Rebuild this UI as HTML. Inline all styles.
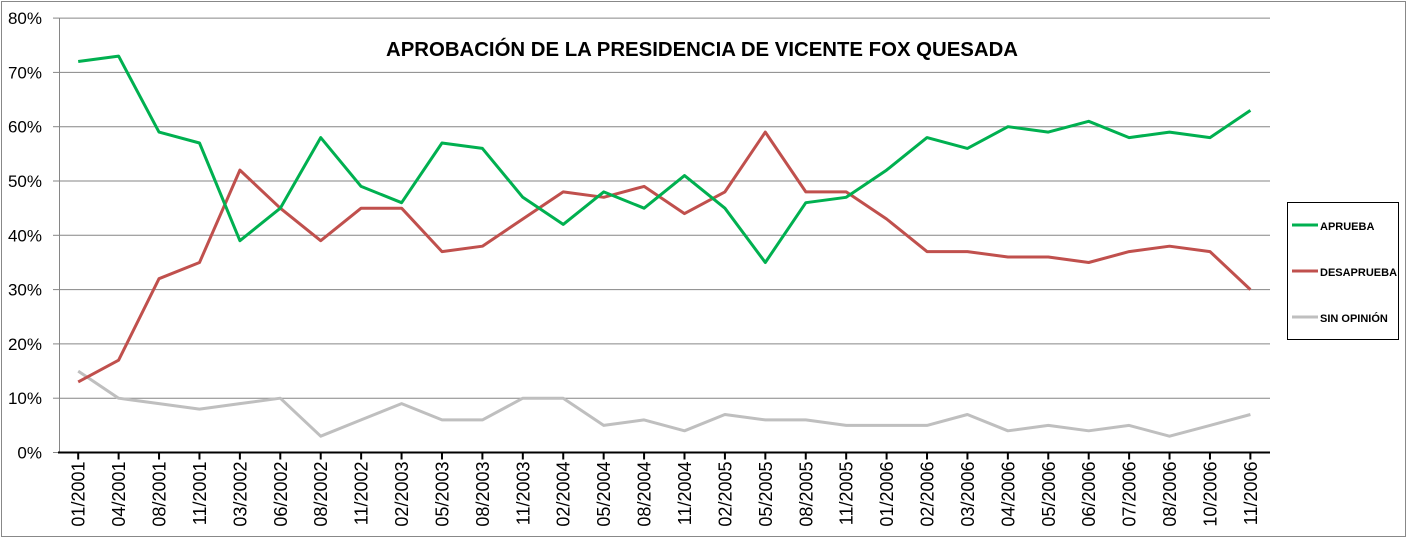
<!DOCTYPE html>
<html><head><meta charset="utf-8"><style>
html,body{margin:0;padding:0;background:#fff;}
svg{display:block;font-family:"Liberation Sans",Arial,sans-serif;}
</style></head><body>
<svg id="c" width="1407" height="552" xmlns="http://www.w3.org/2000/svg">
<rect x="1.5" y="1.5" width="1404" height="535" fill="#fff" stroke="#888" stroke-width="1"/>
<text x="386" y="56" font-size="20" font-weight="bold" textLength="632" lengthAdjust="spacingAndGlyphs">APROBACIÓN DE LA PRESIDENCIA DE VICENTE FOX QUESADA</text>
<g id="grid"></g>
<g id="series"></g>
<rect x="1287.5" y="202.5" width="111" height="137" fill="#fff" stroke="#000" stroke-width="1"/>
<line x1="1292" y1="225" x2="1318" y2="225" stroke="#00b050" stroke-width="3"/>
<text x="1320" y="230" font-size="11" font-weight="bold">APRUEBA</text>
<line x1="1292" y1="271" x2="1318" y2="271" stroke="#c0504d" stroke-width="3"/>
<text x="1320" y="276" font-size="11" font-weight="bold">DESAPRUEBA</text>
<line x1="1292" y1="317" x2="1318" y2="317" stroke="#bfbfbf" stroke-width="3"/>
<text x="1320" y="322" font-size="11" font-weight="bold">SIN OPINIÓN</text>
</svg>
<script>
var NS="http://www.w3.org/2000/svg";
function el(p,t,a,txt){var e=document.createElementNS(NS,t);for(var k in a)e.setAttribute(k,a[k]);if(txt!=null)e.textContent=txt;p.appendChild(e);return e;}
var g=document.getElementById('grid'),s=document.getElementById('series');
var y0=452.5,step=54.3,x0=78.2,dx=40.42;
function Y(v){return y0-v/10*step;}
for(var i=0;i<=8;i++){var y=Y(i*10);
 if(i>0)el(g,'line',{x1:59,y1:y,x2:1270,y2:y,stroke:'#868686','stroke-width':1});
 el(g,'line',{x1:53,y1:y,x2:59,y2:y,stroke:'#868686','stroke-width':1});
 el(g,'text',{x:42,y:y+6,'font-size':17,'text-anchor':'end'},(i*10)+'%');}
el(g,'line',{x1:59.5,y1:Y(80),x2:59.5,y2:y0,stroke:'#868686','stroke-width':1});
var labs=["01/2001","04/2001","08/2001","11/2001","03/2002","06/2002","08/2002","11/2002","02/2003","05/2003","08/2003","11/2003","02/2004","05/2004","08/2004","11/2004","02/2005","05/2005","08/2005","11/2005","01/2006","02/2006","03/2006","04/2006","05/2006","06/2006","07/2006","08/2006","10/2006","11/2006"];
for(var i=0;i<30;i++){var x=x0+i*dx;
 el(g,'line',{x1:x,y1:y0,x2:x,y2:y0+7,stroke:'#000','stroke-width':2});
 el(g,'text',{x:0,y:0,'font-size':18,'text-anchor':'end',transform:'translate('+(x+6.5)+','+(y0+9)+') rotate(-90)'},labs[i]);}
el(g,'line',{x1:58,y1:y0,x2:1270,y2:y0,stroke:'#000','stroke-width':2});
var data=[["#00b050",[72,73,59,57,39,45,58,49,46,57,56,47,42,48,45,51,45,35,46,47,52,58,56,60,59,61,58,59,58,63]],
["#c0504d",[13,17,32,35,52,45,39,45,45,37,38,43,48,47,49,44,48,59,48,48,43,37,37,36,36,35,37,38,37,30]],
["#bfbfbf",[15,10,9,8,9,10,3,6,9,6,6,10,10,5,6,4,7,6,6,5,5,5,7,4,5,4,5,3,5,7]]];
for(var j=2;j>=0;j--){var pts=data[j][1].map(function(v,i){return (x0+i*dx).toFixed(1)+','+Y(v).toFixed(1);}).join(' ');
 el(s,'polyline',{points:pts,fill:'none',stroke:data[j][0],'stroke-width':3,'stroke-linejoin':'round'});}
</script>
</body></html>
